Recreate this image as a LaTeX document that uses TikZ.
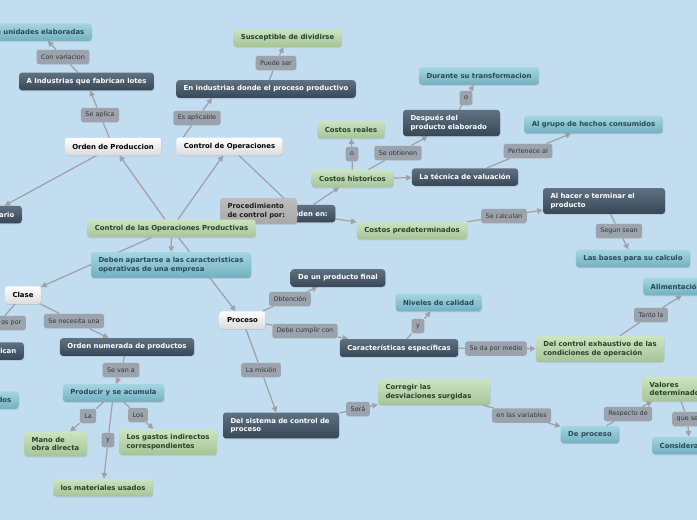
\documentclass[tikz,border=0pt]{standalone}
\usepackage{fontspec}
\setmainfont{DejaVu Sans}
\usetikzlibrary{arrows.meta,shadows}
\definecolor{mapbg}{RGB}{194,220,240}
\definecolor{darktop}{RGB}{96,114,129}
\definecolor{darkbot}{RGB}{54,72,87}
\definecolor{greentop}{RGB}{204,228,194}
\definecolor{greenbot}{RGB}{166,196,152}
\definecolor{greentext}{RGB}{40,66,40}
\definecolor{tealtop}{RGB}{164,214,226}
\definecolor{tealbot}{RGB}{116,176,190}
\definecolor{tealtext}{RGB}{40,74,90}
\definecolor{lblgray}{RGB}{156,163,172}
\definecolor{lbltext}{RGB}{50,55,60}
\definecolor{linkgray}{RGB}{160,160,165}
\pgfdeclarelayer{back}
\pgfdeclarelayer{links}
\pgfsetlayers{back,links,main}
\begin{document}
\begin{tikzpicture}[x=1pt,y=-1pt,
    topic/.style={rounded corners=3pt, inner xsep=7.5pt, inner ysep=5.5pt, minimum height=17.5pt,
      align=left, font=\fontsize{6.9}{8.3}\selectfont\bfseries,
      drop shadow={shadow xshift=0.5pt, shadow yshift=-1pt, opacity=0.2}},
    darknode/.style={topic, top color=darktop, bottom color=darkbot, text=white},
    greennode/.style={topic, top color=greentop, bottom color=greenbot, text=greentext},
    tealnode/.style={topic, top color=tealtop, bottom color=tealbot, text=tealtext},
    whitenode/.style={topic, top color=white, bottom color=black!14, text=black},
    graynode/.style={topic, top color=black!26, bottom color=black!34, text=black!88},
    lbl/.style={fill=lblgray, rounded corners=2.5pt, inner xsep=4.5pt, inner ysep=3pt,
      minimum height=14.5pt, font=\fontsize{6.4}{7.5}\selectfont, text=lbltext},
    link/.style={draw=linkgray, line width=1.2pt},
    arrowed/.style={link, -{Triangle[length=5.5pt,width=5.5pt]}}]
  \useasboundingbox (0,0) rectangle (697,520);
  \begin{pgfonlayer}{back}
    \fill[mapbg] (0,0) rectangle (697,520);
  \end{pgfonlayer}
  % top left
  \node[tealnode, anchor=east, text width=90pt, align=right] (unidades) at (92,32) {e unidades elaboradas};
  \node[lbl] (convar) at (63,57) {Con variacion};
  \node[darknode] (indlotes) at (86.5,81.5) {A Industrias que fabrican lotes};
  \node[lbl] (seaplica) at (100,115) {Se aplica};
  \node[whitenode] (opprod) at (113,146.5) {Orden de Produccion};
  \node[whitenode] (ctrlop) at (229.5,146.5) {Control de Operaciones};
  \node[lbl] (esapl) at (197,118) {Es aplicable};
  \node[darknode] (enind) at (266,89) {En industrias donde el proceso productivo};
  \node[lbl] (puede) at (276,63) {Puede ser};
  \node[greennode] (suscep) at (287.5,38) {Susceptible de dividirse};
  % costos
  \node[greennode] (creales) at (351,129.5) {Costos reales};
  \node[lbl] (oa) at (352,154) {o};
  \node[lbl] (seobt) at (398,153) {Se obtienen};
  \node[darknode, text width=82pt] (despues) at (451.5,123) {Después del\\producto elaborado};
  \node[lbl] (ob) at (466,98) {o};
  \node[tealnode] (durante) at (479,76) {Durante su transformacion};
  \node[greennode] (chist) at (352.5,178.5) {Costos historicos};
  \node[darknode] (tecnica) at (465,177) {La técnica de valuación};
  \node[lbl] (pertenece) at (528,151) {Pertenece al};
  \node[tealnode] (grupo) at (593.5,124.5) {Al grupo de hechos consumidos};
  \node[darknode, text width=107pt] (alhacer) at (604,201) {Al hacer o terminar el\\producto};
  \node[lbl] (secalc) at (504,216) {Se calculan};
  \node[greennode] (cpred) at (412,230.5) {Costos predeterminados};
  \node[lbl] (segun) at (619,231) {Segun sean};
  \node[tealnode] (bases) at (633,258.5) {Las bases para su calculo};
  \node[darknode] (dividen) at (300,213.5) {Se dividen en:};
  \node[graynode, text width=62pt] (proced) at (258.5,211) {Procedimiento\\de control por:};
  % centro
  \node[greennode] (cop) at (171.5,228.5) {Control de las Operaciones Productivas};
  \node[tealnode, text width=145pt] (deben) at (171,265) {Deben apartarse a las caracteristicas\\operativas de una empresa};
  % izquierda
  \node[darknode, anchor=east, text width=52pt, align=right] (ario) at (22,214.5) {ario};
  \node[whitenode] (clase) at (23,295) {Clase};
  \node[lbl, anchor=east, text width=46pt, align=right] (ospor) at (26,323) {os por};
  \node[darknode, anchor=east, text width=60pt, align=right] (rican) at (24,351) {rican};
  \node[tealnode, anchor=east, text width=40pt, align=right] (dos) at (19,400) {dos};
  \node[lbl] (senec) at (74,321) {Se necesita una};
  \node[darknode] (ordnum) at (127,347) {Orden numerada de productos};
  \node[lbl] (sevan) at (121,370) {Se van a};
  \node[tealnode] (producir) at (113.5,393) {Producir y se acumula};
  \node[lbl] (lla) at (88,416) {La};
  \node[lbl] (llos) at (138,415) {Los};
  \node[lbl] (ly) at (108,440) {y};
  \node[greennode] (mano) at (55.5,444) {Mano de\\obra directa};
  \node[greennode] (gastos) at (168,442) {Los gastos indirectos\\correspondientes};
  \node[greennode] (mater) at (103,487.5) {los materiales usados};
  % proceso
  \node[whitenode] (proceso) at (242.5,320) {Proceso};
  \node[lbl] (obt) at (290,299) {Obtención};
  \node[darknode] (prodfinal) at (338,278) {De un producto final};
  \node[lbl] (debe) at (305,331) {Debe cumplir con};
  \node[darknode] (caract) at (399,348) {Características específicas};
  \node[lbl] (ly2) at (418,326) {y};
  \node[tealnode] (niveles) at (438.5,302.5) {Niveles de calidad};
  \node[lbl] (sedapor) at (496,348.5) {Se da por medio};
  \node[greennode] (delctrl) at (600,349) {Del control exhaustivo de las\\condiciones de operación};
  \node[lbl] (tanto) at (651,315) {Tanto la};
  \node[tealnode, anchor=west, text width=90pt] (aliment) at (643,286.5) {Alimentación};
  \node[lbl] (mision) at (261,370) {La misión};
  \node[darknode, text width=101pt] (delsis) at (281,425.5) {Del sistema de control de\\proceso};
  \node[lbl] (sera) at (358,409) {Será};
  \node[greennode, text width=97pt] (corregir) at (434,392) {Corregir las\\desviaciones surgidas};
  \node[lbl] (envar) at (521.5,415.5) {en las variables};
  \node[tealnode] (deproc) at (590,434.5) {De proceso};
  \node[lbl] (respecto) at (628,414) {Respecto de};
  \node[greennode, anchor=west] (valores) at (642,389) {Valores\\determinados};
  \node[lbl, anchor=west] (quese) at (672,419) {que se};
  \node[tealnode, anchor=west, text width=60pt] (considera) at (652,445.5) {Considera};
  % conectores
  \begin{pgfonlayer}{links}
    \foreach \a/\b/\c in {opprod/seaplica/indlotes, indlotes/convar/unidades, enind/puede/suscep,
        chist/oa/creales, chist/seobt/despues, despues/ob/durante, tecnica/pertenece/grupo,
        cpred/secalc/alhacer, alhacer/segun/bases, clase/senec/ordnum, clase/ospor/rican,
        ordnum/sevan/producir, producir/lla/mano, producir/llos/gastos, producir/ly/mater,
        proceso/obt/prodfinal, proceso/debe/caract, caract/ly2/niveles, caract/sedapor/delctrl,
        delctrl/tanto/aliment, proceso/mision/delsis, delsis/sera/corregir, corregir/envar/deproc,
        deproc/respecto/valores, valores/quese/considera}
      {\draw[link] (\a) -- (\b); \draw[arrowed] (\b) -- (\c);}
    \foreach \a/\c in {cop/opprod, cop/ctrlop, cop/deben, cop/clase, cop/proceso, opprod/ario,
        ctrlop/dividen, dividen/chist, dividen/cpred, chist/tecnica}
      \draw[arrowed] (\a) -- (\c);
    \draw[link] ([xshift=7pt]ctrlop.north west) -- (esapl);
    \draw[arrowed] (esapl) -- ([xshift=36pt]enind.south west);
  \end{pgfonlayer}
\end{tikzpicture}
\end{document}
